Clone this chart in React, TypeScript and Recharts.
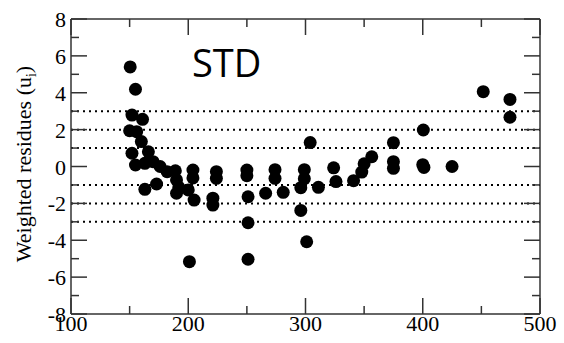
import { ScatterChart, Scatter, XAxis, YAxis, ReferenceLine } from "recharts";

const residueX = [
  150.5, 155, 152, 161, 150, 156, 160, 152, 155, 166, 163, 170, 176, 182, 189, 190, 192, 173, 163, 190,
  204, 204, 200, 205, 224, 224, 221, 221, 250, 250, 251, 251, 251, 201, 266, 274, 274, 281, 299, 299,
  296, 296, 301, 304, 311, 324, 326, 341, 350, 348, 356.5, 375, 375, 375, 400.5, 400, 401, 425, 451.6, 474.4,
  474.4,
];
const residueY = [
  5.4, 4.19, 2.79, 2.56, 1.94, 1.89, 1.35, 0.72, 0.08, 0.8, 0.17, 0.26, 0.0, -0.28, -0.23, -0.73, -1.13, -0.95, -1.24, -1.45,
  -0.19, -0.62, -1.27, -1.82, -0.28, -0.64, -1.72, -2.09, -0.19, -0.5, -1.64, -3.05, -5.03, -5.16, -1.45, -0.17, -0.64, -1.4, -0.17, -0.66,
  -1.15, -2.38, -4.08, 1.3, -1.13, -0.07, -0.82, -0.77, 0.15, -0.3, 0.53, 1.29, 0.26, -0.1, 1.98, 0.1, -0.05, 0.0, 4.06, 3.64,
  2.67,
];
const xTickValues = [100, 150, 200, 250, 300, 350, 400, 450, 500];
const yTickValues = [-8, -7, -6, -5, -4, -3, -2, -1, 0, 1, 2, 3, 4, 5, 6, 7, 8];
const dottedLevels = [3, 2, 1, -1, -2, -3];
const frameX = [100, 500];
const frameY = [-8, 8];

const points = residueX.map((x, i) => ({ x, y: residueY[i] }));

const W = 564;
const H = 343;
const M_TOP = 19;
const M_RIGHT = 24;
const AXIS = "#333";

// ticks point inwards on all four sides, labels only on bottom/left
const BottomTick = (p: any) => {
  const v = p.payload.value;
  const len = v % 100 === 0 ? 16 : 8;
  return (
    <g>
      <line x1={p.x} y1={p.y} x2={p.x} y2={p.y - len} stroke={AXIS} strokeWidth={1.5} />
      <line x1={p.x} y1={M_TOP} x2={p.x} y2={M_TOP + len} stroke={AXIS} strokeWidth={1.5} />
      {v % 100 === 0 ? (
        <text x={p.x} y={p.y + 17} textAnchor="middle" fontFamily="Liberation Serif" fontSize={22} fill="#000">
          {v}
        </text>
      ) : null}
    </g>
  );
};

const LeftTick = (p: any) => {
  const v = p.payload.value;
  const len = v % 2 === 0 ? 16 : 8;
  const right = W - M_RIGHT;
  return (
    <g>
      <line x1={p.x} y1={p.y} x2={p.x + len} y2={p.y} stroke={AXIS} strokeWidth={1.5} />
      <line x1={right} y1={p.y} x2={right - len} y2={p.y} stroke={AXIS} strokeWidth={1.5} />
      {v % 2 === 0 ? (
        <text x={p.x - 5} y={p.y + 8} textAnchor="end" fontFamily="Liberation Serif" fontSize={22} fill="#000">
          {v}
        </text>
      ) : null}
    </g>
  );
};

const Dot = (p: any) => <circle cx={p.cx} cy={p.cy} r={6.5} fill="#000" />;

export default function App() {
  return (
    <div style={{ position: "absolute", left: 0, top: 0, width: W, height: H, background: "#fff" }}>
      <ScatterChart width={W} height={H} margin={{ top: M_TOP, right: M_RIGHT, bottom: 0, left: 0 }}>
        <XAxis
          xAxisId="b"
          dataKey="x"
          type="number"
          domain={[100, 500]}
          ticks={xTickValues}
          interval={0}
          height={29}
          tickLine={false}
          tickSize={0}
          tickMargin={0}
          axisLine={false}
          tick={BottomTick}
        />
        <YAxis
          yAxisId="l"
          dataKey="y"
          type="number"
          domain={[-8, 8]}
          ticks={yTickValues}
          interval={0}
          width={71}
          tickLine={false}
          tickSize={0}
          tickMargin={0}
          axisLine={false}
          tick={LeftTick}
        />
        {frameX.map((v) => (
          <ReferenceLine key={"fx" + v} xAxisId="b" yAxisId="l" x={v} stroke={AXIS} strokeWidth={1.5} />
        ))}
        {frameY.map((v) => (
          <ReferenceLine key={"fy" + v} xAxisId="b" yAxisId="l" y={v} stroke={AXIS} strokeWidth={1.5} />
        ))}
        {dottedLevels.map((lv) => (
          <ReferenceLine key={lv} xAxisId="b" yAxisId="l" y={lv} stroke="#000" strokeWidth={2} strokeDasharray="2 4" />
        ))}
        <Scatter xAxisId="b" yAxisId="l" data={points} shape={Dot} isAnimationActive={false} />
      </ScatterChart>
      <div
        style={{
          position: "absolute",
          left: 28,
          top: 164,
          transform: "translate(-50%, -50%) rotate(-90deg)",
          whiteSpace: "nowrap",
          fontFamily: "Liberation Serif",
          fontSize: 22,
          lineHeight: "24px",
          color: "#000",
        }}
      >
        Weighted residues (u<sub style={{ fontSize: 14 }}>i</sub>)
      </div>
      <div
        style={{
          position: "absolute",
          left: 192,
          top: 36,
          fontFamily: "Open Sans",
          fontSize: 38,
          lineHeight: "52px",
          color: "#000",
        }}
      >
        STD
      </div>
    </div>
  );
}
